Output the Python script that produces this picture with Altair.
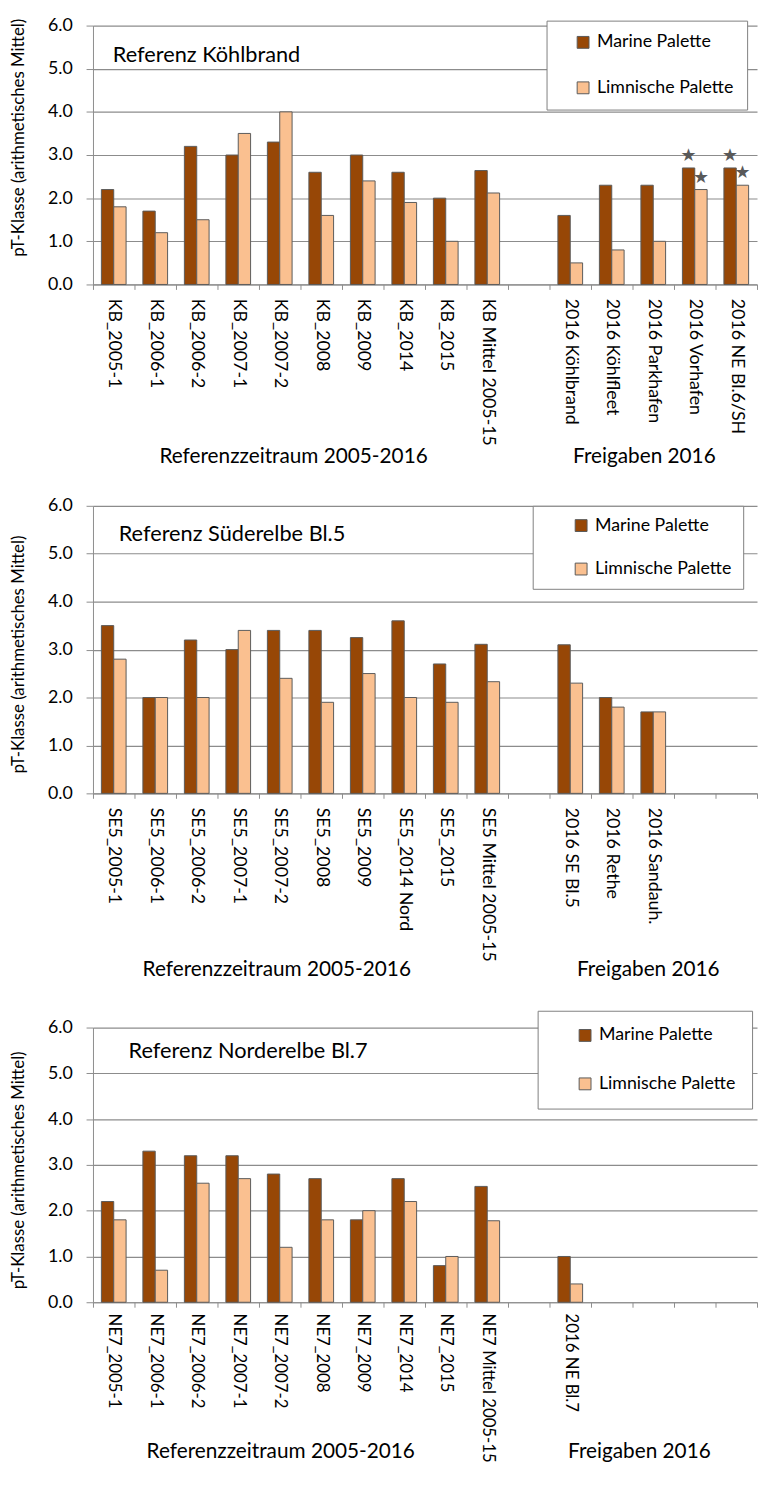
import altair as alt
import pandas as pd

SERIES = ["Marine Palette", "Limnische Palette"]
COLORS = ["#974706", "#FAC090"]
Y_TITLE = "pT-Klasse (arithmetisches Mittel)"
Y_TICKS = [0, 1, 2, 3, 4, 5, 6]

# Panel 1: Köhlbrand
kb_categories = ["KB_2005-1", "KB_2006-1", "KB_2006-2", "KB_2007-1", "KB_2007-2",
                 "KB_2008", "KB_2009", "KB_2014", "KB_2015", "KB Mittel 2005-15", " ",
                 "2016 Köhlbrand", "2016 Köhlfleet", "2016 Parkhafen", "2016 Vorhafen",
                 "2016 NE Bl.6/SH"]
kb_marine = [2.2, 1.7, 3.2, 3.0, 3.3, 2.6, 3.0, 2.6, 2.0, 2.64, None, 1.6, 2.3, 2.3, 2.7, 2.7]
kb_limnic = [1.8, 1.2, 1.5, 3.5, 4.0, 1.6, 2.4, 1.9, 1.0, 2.12, None, 0.5, 0.8, 1.0, 2.2, 2.3]
kb_stars = ["2016 Vorhafen", "2016 NE Bl.6/SH"]

# Panel 2: Süderelbe Bl.5
se_categories = ["SE5_2005-1", "SE5_2006-1", "SE5_2006-2", "SE5_2007-1", "SE5_2007-2",
                 "SE5_2008", "SE5_2009", "SE5_2014 Nord", "SE5_2015", "SE5 Mittel 2005-15", " ",
                 "2016 SE Bl.5", "2016 Rethe", "2016 Sandauh.", "  ", "   "]
se_marine = [3.5, 2.0, 3.2, 3.0, 3.4, 3.4, 3.25, 3.6, 2.7, 3.11, None, 3.1, 2.0, 1.7, None, None]
se_limnic = [2.8, 2.0, 2.0, 3.4, 2.4, 1.9, 2.5, 2.0, 1.9, 2.33, None, 2.3, 1.8, 1.7, None, None]
se_stars = []

# Panel 3: Norderelbe Bl.7
ne_categories = ["NE7_2005-1", "NE7_2006-1", "NE7_2006-2", "NE7_2007-1", "NE7_2007-2",
                 "NE7_2008", "NE7_2009", "NE7_2014", "NE7_2015", "NE7 Mittel 2005-15", " ",
                 "2016 NE Bl.7", "  ", "   ", "    ", "     "]
ne_marine = [2.2, 3.3, 3.2, 3.2, 2.8, 2.7, 1.8, 2.7, 0.8, 2.53, None, 1.0, None, None, None, None]
ne_limnic = [1.8, 0.7, 2.6, 2.7, 1.2, 1.8, 2.0, 2.2, 1.0, 1.78, None, 0.4, None, None, None, None]
ne_stars = []

FONT = "Lato"
GRAY = "#8c8c8c"


def panel(cats, marine, limnic, stars, title, title_pos, height, leg, ytitle_y,
          grp_y, ref_x, frei_x, xlab=18, xpad=9):
    rows = []
    for c, m, l in zip(cats, marine, limnic):
        if m is not None:
            rows.append({"cat": c, "series": SERIES[0], "v": m, "star": c in stars})
        if l is not None:
            rows.append({"cat": c, "series": SERIES[1], "v": l, "star": c in stars})
    df = pd.DataFrame(rows)

    x = alt.X("cat:N", title=None,
              scale=alt.Scale(domain=cats, paddingInner=0, paddingOuter=0),
              axis=alt.Axis(labelAngle=90, labelFont=FONT, labelFontSize=xlab,
                            labelColor="black", labelPadding=xpad, labelLimit=300,
                            tickBand="extent", tickSize=5, tickColor=GRAY,
                            domainColor=GRAY, grid=False))
    xo = alt.XOffset("series:N",
                     scale=alt.Scale(domain=SERIES, paddingOuter=0.68, paddingInner=0))
    y = alt.Y("v:Q", title=Y_TITLE,
              scale=alt.Scale(domain=[0, 6], nice=False),
              axis=alt.Axis(values=Y_TICKS, format=".1f", labelFont=FONT,
                            labelFontSize=18, labelColor="black", labelPadding=14,
                            tickSize=7, tickColor=GRAY, domainColor=GRAY,
                            grid=True, gridColor=GRAY, gridWidth=1.2,
                            titleFont=FONT, titleFontSize=17, titleFontWeight="normal",
                            titleColor="black", titleX=-75, titleY=ytitle_y,
                            titleAlign="center", titleBaseline="middle", titleAngle=270))
    color = alt.Color("series:N",
                      scale=alt.Scale(domain=SERIES, range=COLORS),
                      legend=alt.Legend(title=None, orient="none",
                                        legendX=leg["x"], legendY=leg["y"],
                                        direction="vertical", fillColor="white",
                                        strokeColor="#7f7f7f", padding=leg["pad"],
                                        rowPadding=leg["row"], symbolType="square",
                                        symbolSize=144, symbolStrokeColor="#595959",
                                        symbolStrokeWidth=1, symbolOffset=leg["sym"],
                                        labelOffset=5, labelFont=FONT, labelFontSize=18,
                                        labelColor="black"))

    bars = alt.Chart(df).mark_bar(stroke="#5a5a5a", strokeWidth=1).encode(
        x=x, xOffset=xo, y=y, color=color)

    layers = [bars]
    if len(stars) > 0:
        star_layer = alt.Chart(df[df["star"]]).mark_text(
            text="★", font="DejaVu Sans", fontSize=18, color="#595959",
            baseline="middle", dy=-12).encode(x=x, xOffset=xo, y=y)
        layers.append(star_layer)

    ttl = alt.Chart(pd.DataFrame({"t": [title]})).mark_text(
        align="left", baseline="middle", font=FONT, fontSize=22, color="black").encode(
        text="t:N", x=alt.value(title_pos[0]), y=alt.value(title_pos[1]))
    g1 = alt.Chart(pd.DataFrame({"t": ["Referenzzeitraum 2005-2016"]})).mark_text(
        align="center", baseline="middle", font=FONT, fontSize=21, color="black").encode(
        text="t:N", x=alt.value(ref_x), y=alt.value(height + grp_y))
    g2 = alt.Chart(pd.DataFrame({"t": ["Freigaben 2016"]})).mark_text(
        align="center", baseline="middle", font=FONT, fontSize=21, color="black").encode(
        text="t:N", x=alt.value(frei_x), y=alt.value(height + grp_y))
    layers += [ttl, g1, g2]

    return alt.layer(*layers).properties(width=672, height=height)


p1 = panel(kb_categories, kb_marine, kb_limnic, kb_stars, "Referenz Köhlbrand",
           (20, 30), 262, {"x": 459, "y": -5, "pad": 13, "row": 28, "sym": 15},
           113, 175, 203, 558)
p2 = panel(se_categories, se_marine, se_limnic, se_stars, "Referenz Süderelbe Bl.5",
           (26, 29), 291, {"x": 445, "y": 0, "pad": 11, "row": 26, "sym": 29},
           150, 179, 186, 562)
p3 = panel(ne_categories, ne_marine, ne_limnic, ne_stars, "Referenz Norderelbe Bl.7",
           (36, 24), 278, {"x": 450, "y": -17, "pad": 16, "row": 31, "sym": 23},
           144, 152, 190, 553, xlab=17, xpad=6)

chart = alt.vconcat(p1, p2, p3, spacing=30).resolve_scale(
    color="independent", x="independent", xOffset="independent"
).properties(
    padding={"left": 1, "top": 0, "right": 0, "bottom": 0},
    background="white"
).configure_view(stroke=None)

chart.save("out.html", embed_options={"renderer": "svg", "actions": False})
